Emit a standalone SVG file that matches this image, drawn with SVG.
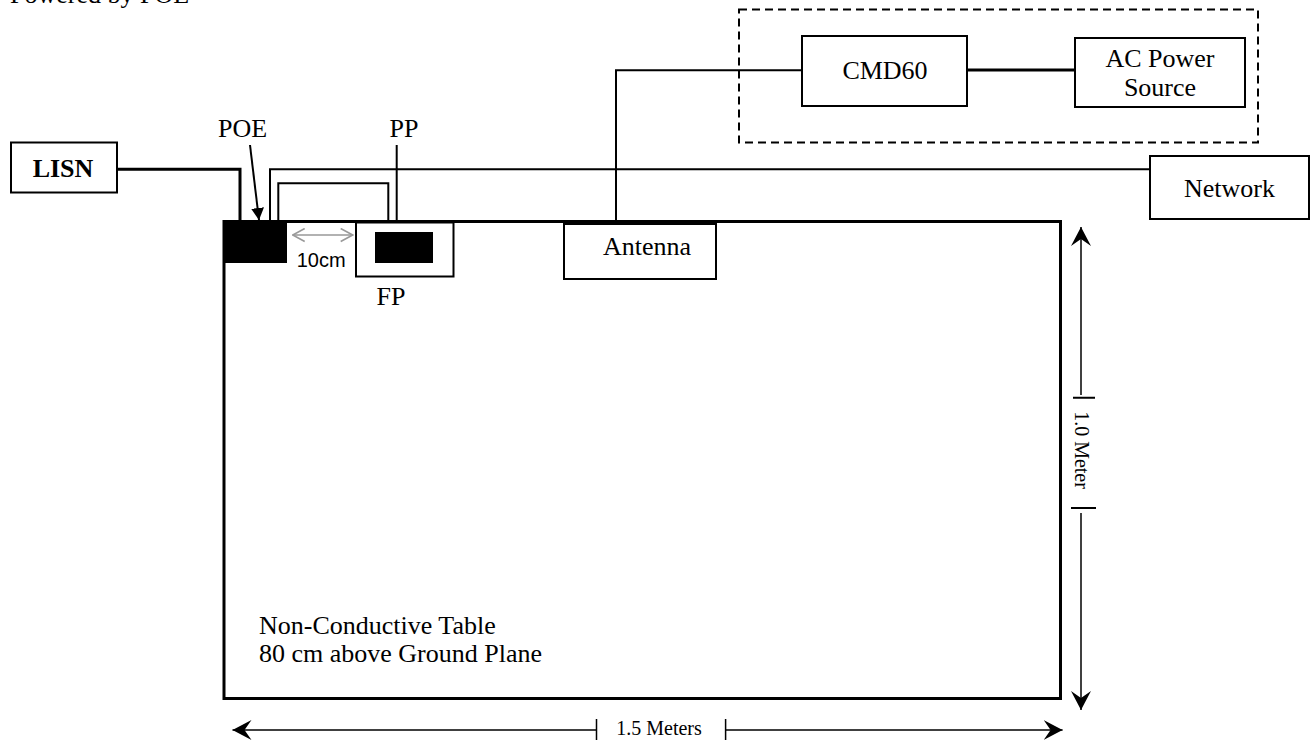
<svg xmlns="http://www.w3.org/2000/svg" width="1316" height="742" viewBox="0 0 1316 742">
<style>
.t{font-family:"Liberation Serif","Times New Roman",serif;font-size:26px;fill:#000}
.m{text-anchor:middle}
.s{font-family:"Liberation Sans",Arial,sans-serif;font-size:20px;fill:#000}
.d{font-family:"Liberation Serif","Times New Roman",serif;font-size:20px;fill:#000;text-anchor:middle}
.box{fill:#fff;stroke:#000;stroke-width:2}
.w{fill:none;stroke:#000;stroke-width:2}
.wt{fill:none;stroke:#000;stroke-width:3}
.dim{fill:none;stroke:#000;stroke-width:1.5}
</style>
<defs>
<marker id="tri" viewBox="0 0 12 13" refX="12" refY="6.5" markerWidth="12" markerHeight="13" markerUnits="userSpaceOnUse" orient="auto"><path d="M0,0 L12,6.5 L0,13 Z" fill="#000"/></marker>
<marker id="open" viewBox="0 0 14 15" refX="13" refY="7.5" markerWidth="14" markerHeight="15" markerUnits="userSpaceOnUse" orient="auto-start-reverse"><path d="M1,1 L13,7.5 L1,14" fill="none" stroke="#999" stroke-width="1.6"/></marker>
<marker id="barb" viewBox="0 0 20 22" refX="19" refY="11" markerWidth="20" markerHeight="22" markerUnits="userSpaceOnUse" orient="auto"><path d="M0,1 L19,11 L0,21 L7,11 Z" fill="#000"/></marker>
</defs>

<text class="t" x="10" y="2.5">Powered by POE</text>

<g id="table">
<rect x="224" y="221.5" width="836.5" height="477" fill="none" stroke="#000" stroke-width="3"/>
<text class="t" x="259" y="634">Non-Conductive Table</text>
<text class="t" x="259" y="662">80 cm above Ground Plane</text>
</g>

<g id="connectors">
<path class="wt" d="M117,169.3 H240 V221"/>
<path class="w" d="M270,221 V169.3 H1150"/>
<path class="w" d="M278.3,221 V183.3 H388.3 V222.5"/>
<path class="w" d="M616,221 V70.3 H802"/>
<path class="wt" d="M967,70 H1075"/>
<path class="w" d="M250,145 L259,220" marker-end="url(#tri)"/>
<path class="w" d="M396.7,145 V233" marker-end="url(#tri)"/>
<path d="M292.7,235 H352.7" fill="none" stroke="#999" stroke-width="1.6" marker-start="url(#open)" marker-end="url(#open)"/>
</g>

<g id="lisn">
<rect class="box" x="11" y="142.5" width="106" height="50"/>
<text class="t m" x="63" y="177" font-weight="bold">LISN</text>
</g>

<g id="poe">
<rect x="223" y="221" width="64" height="42" fill="#000"/>
<text class="t m" x="242.5" y="137">POE</text>
</g>

<g id="fp">
<rect class="box" x="356" y="222.5" width="97.5" height="54"/>
<rect x="375" y="232" width="58" height="31" fill="#000"/>
<text class="t m" x="404" y="137">PP</text>
<text class="t m" x="391" y="305">FP</text>
</g>

<text class="s" x="296.7" y="266.7">10cm</text>

<g id="antenna">
<rect class="box" x="564" y="224" width="152" height="55"/>
<text class="t m" x="647" y="255">Antenna</text>
</g>

<rect x="739" y="9.5" width="519" height="133" fill="none" stroke="#000" stroke-width="2" stroke-dasharray="8,5"/>

<g id="cmd60">
<rect class="box" x="802" y="36" width="165" height="70"/>
<text class="t m" x="885" y="79">CMD60</text>
</g>

<g id="ac">
<rect class="box" x="1075" y="38" width="170" height="69"/>
<text class="t m" x="1160" y="67" font-size="25">AC Power</text>
<text class="t m" x="1160" y="96" font-size="25">Source</text>
</g>

<g id="network">
<rect class="box" x="1150" y="156" width="159" height="63"/>
<text class="t m" x="1229.5" y="197">Network</text>
</g>

<g id="dimensions">
<path class="dim" d="M1081,395 V227" marker-end="url(#barb)"/>
<path class="dim" d="M1081,513 V710" marker-end="url(#barb)"/>
<path class="w" d="M1073,397.7 H1095 M1071,508 H1096"/>
<text class="d" transform="translate(1074.5,450) rotate(90)" x="0" y="0">1.0 Meter</text>
<path class="dim" d="M596.5,730 H232.5" marker-end="url(#barb)"/>
<path class="dim" d="M725.6,730 H1062.6" marker-end="url(#barb)"/>
<path class="dim" d="M596.5,719 V740 M725.6,719 V740"/>
<text class="d" x="659" y="735">1.5 Meters</text>
</g>
</svg>
